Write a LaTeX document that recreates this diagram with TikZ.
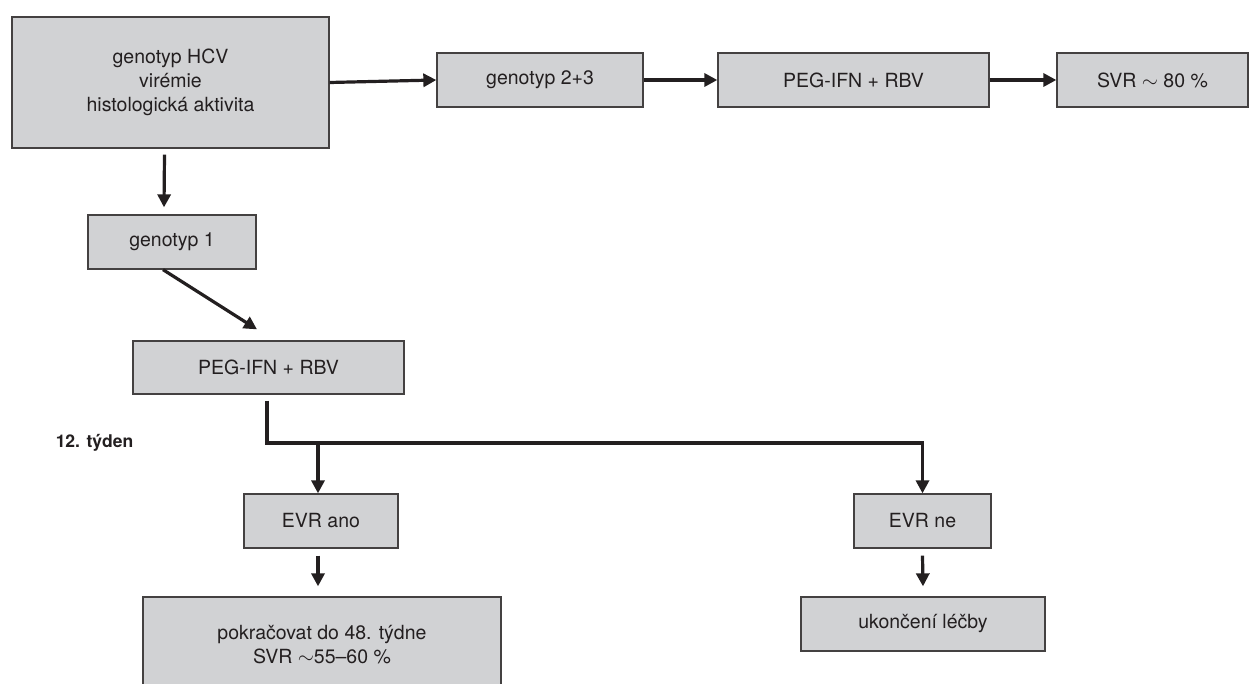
\documentclass[tikz,border=0pt]{standalone}
\usepackage{fontspec}
\setmainfont{TeX Gyre Heros}
\usetikzlibrary{arrows.meta}
\definecolor{boxgray}{HTML}{D1D2D4}
\definecolor{ink}{HTML}{231F20}
\tikzset{
  box/.style={draw=ink!85, line width=1.3pt, fill=boxgray, text=ink, inner sep=0pt,
    align=center, font=\fontsize{19.5}{24}\selectfont},
  conn/.style={draw=ink, line width=3.2pt},
  arr/.style={conn, -{Triangle[length=13pt,width=13pt]}},
}
\begin{document}
\begin{tikzpicture}[x=1pt,y=-1pt]
\clip (0,0) rectangle (1249,684);
\fill[white] (0,0) rectangle (1249,684);
\node[box, minimum width=317pt, minimum height=131pt] (main) at (170.5,82.5) {genotyp HCV\\virémie\\histologická aktivita};
\node[box, minimum width=206pt, minimum height=54pt] (g23) at (540,80) {genotyp 2+3};
\node[box, minimum width=271pt, minimum height=54pt] (peg1) at (853.5,80) {PEG-IFN + RBV};
\node[box, minimum width=191pt, minimum height=54pt] (svr) at (1152.5,80) {SVR $\sim$ 80 \%};
\node[box, minimum width=168pt, minimum height=54pt] (g1) at (172,242) {genotyp 1};
\node[box, minimum width=271pt, minimum height=53pt] (peg2) at (268.5,367.5) {PEG-IFN + RBV};
\node[box, minimum width=154pt, minimum height=54pt] (evra) at (321,521) {EVR ano};
\node[box, minimum width=137pt, minimum height=54pt] (evrn) at (922.5,521) {EVR ne};
\node[box, minimum width=358pt, minimum height=96pt] (pok) at (322,645) {pokračovat do 48. týdne\\SVR $\sim$55–60 \%};
\node[box, minimum width=244pt, minimum height=54pt] (uk) at (923,624) {ukončení léčby};
\node[text=ink, font=\fontsize{17.5}{20}\selectfont\bfseries, inner sep=0pt] (wk) at (94.5,443) {12. týden};
\coordinate (j) at (318,443);

\draw[arr] (main.east) -- (g23.west);
\draw[arr] (g23.east) -- (peg1.west);
\draw[arr] (peg1.east) -- (svr.west);
\draw[arr] ([xshift=-6pt,yshift=-6pt]main.south) -- ([xshift=-8pt,yshift=7pt]g1.north);
\draw[arr] ([xshift=-9pt]g1.south) -- ([xshift=-11.5pt,yshift=11pt]peg2.north);
\draw[arr, line join=miter] ([xshift=-1.5pt,yshift=-6pt]peg2.south) |- (evrn.north |- j) -- (evrn.north);
\draw[arr] (j) -- (evra.north -| j);
\draw[arr] ([xshift=-3pt,yshift=-7pt]evra.south) -- ([xshift=-4pt,yshift=10pt]pok.north);
\draw[arr] ([yshift=-7pt]evrn.south) -- ([yshift=10pt]uk.north);
\end{tikzpicture}
\end{document}
